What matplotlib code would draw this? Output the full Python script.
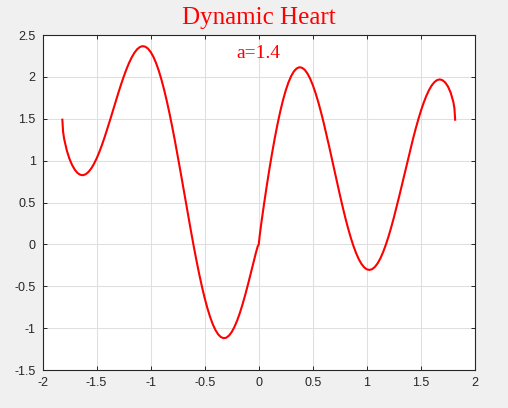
import matplotlib
matplotlib.use("Agg")
import matplotlib.pyplot as plt

# Curve samples (a = 1.4)
x_vals = [-1.8166, -1.81, -1.8, -1.775, -1.75, -1.725, -1.7, -1.675, -1.65, -1.625,
          -1.6, -1.575, -1.55, -1.525, -1.5, -1.475, -1.45, -1.425, -1.4, -1.375,
          -1.35, -1.325, -1.3, -1.275, -1.25, -1.225, -1.2, -1.175, -1.15, -1.125,
          -1.1, -1.075, -1.05, -1.025, -1.0, -0.975, -0.95, -0.925, -0.9, -0.875,
          -0.85, -0.825, -0.8, -0.775, -0.75, -0.725, -0.7, -0.675, -0.65, -0.625,
          -0.6, -0.575, -0.55, -0.525, -0.5, -0.475, -0.45, -0.425, -0.4, -0.375,
          -0.35, -0.325, -0.3, -0.275, -0.25, -0.225, -0.2, -0.175, -0.15, -0.125,
          -0.1, -0.075, -0.05, -0.025, -0.01, 0.0, 0.01, 0.025, 0.05, 0.075,
          0.1, 0.125, 0.15, 0.175, 0.2, 0.225, 0.25, 0.275, 0.3, 0.325,
          0.35, 0.375, 0.4, 0.425, 0.45, 0.475, 0.5, 0.525, 0.55, 0.575,
          0.6, 0.625, 0.65, 0.675, 0.7, 0.725, 0.75, 0.775, 0.8, 0.825,
          0.85, 0.875, 0.9, 0.925, 0.95, 0.975, 1.0, 1.025, 1.05, 1.075,
          1.1, 1.125, 1.15, 1.175, 1.2, 1.225, 1.25, 1.275, 1.3, 1.325,
          1.35, 1.375, 1.4, 1.425, 1.45, 1.475, 1.5, 1.525, 1.55, 1.575,
          1.6, 1.625, 1.65, 1.675, 1.7, 1.725, 1.75, 1.775, 1.8, 1.81, 1.8166]
y_vals = [1.489, 1.347, 1.260, 1.119, 1.019, 0.944, 0.889, 0.851, 0.831, 0.826,
          0.838, 0.865, 0.905, 0.959, 1.025, 1.102, 1.188, 1.282, 1.382, 1.486,
          1.592, 1.698, 1.803, 1.904, 1.999, 2.087, 2.166, 2.233, 2.288, 2.330,
          2.356, 2.367, 2.361, 2.338, 2.298, 2.241, 2.166, 2.075, 1.967, 1.845,
          1.709, 1.561, 1.402, 1.234, 1.058, 0.878, 0.694, 0.509, 0.324, 0.144,
          -0.032, -0.200, -0.359, -0.507, -0.642, -0.762, -0.866, -0.954, -1.024, -1.075,
          -1.107, -1.120, -1.114, -1.089, -1.046, -0.986, -0.910, -0.820, -0.716, -0.602,
          -0.480, -0.351, -0.221, -0.094, -0.025, 0.000, 0.118, 0.265, 0.492, 0.707,
          0.911, 1.102, 1.281, 1.445, 1.594, 1.726, 1.840, 1.935, 2.010, 2.065,
          2.100, 2.115, 2.109, 2.085, 2.041, 1.980, 1.902, 1.808, 1.702, 1.583,
          1.455, 1.318, 1.176, 1.030, 0.883, 0.736, 0.593, 0.454, 0.321, 0.198,
          0.085, -0.016, -0.103, -0.176, -0.233, -0.274, -0.298, -0.305, -0.295, -0.268,
          -0.225, -0.167, -0.093, -0.006, 0.093, 0.203, 0.322, 0.448, 0.579, 0.714,
          0.851, 0.987, 1.121, 1.250, 1.374, 1.489, 1.595, 1.690, 1.773, 1.843,
          1.898, 1.938, 1.962, 1.970, 1.960, 1.933, 1.885, 1.813, 1.700, 1.624, 1.489]

x_ticks = [-2, -1.5, -1, -0.5, 0, 0.5, 1, 1.5, 2]
x_tick_labels = ['-2', '-1.5', '-1', '-0.5', '0', '0.5', '1', '1.5', '2']
y_ticks = [-1.5, -1, -0.5, 0, 0.5, 1, 1.5, 2, 2.5]
y_tick_labels = ['-1.5', '-1', '-0.5', '0', '0.5', '1', '1.5', '2', '2.5']
title = 'Dynamic Heart'
annotation = 'a=1.4'

fig = plt.figure(figsize=(5.08, 4.08), dpi=100, facecolor='#f0f0f0')
ax = fig.add_axes([0.0837, 0.0931, 0.8513, 0.8211])
ax.plot(x_vals, y_vals, color='red', lw=1.5)
ax.set_xlim(-2, 2)
ax.set_ylim(-1.5, 2.5)
ax.set_xticks(x_ticks)
ax.set_xticklabels(x_tick_labels)
ax.set_yticks(y_ticks)
ax.set_yticklabels(y_tick_labels)
ax.grid(True, color='#dfdfdf', lw=0.75)
ax.set_axisbelow(True)
for s in ax.spines.values():
    s.set_color('#262626')
    s.set_linewidth(0.8)
ax.tick_params(direction='in', length=3, width=0.7, colors='#262626', labelsize=9,
               top=True, right=True, labelfontfamily='Liberation Sans')
ax.tick_params(axis='x', pad=5)
ax.tick_params(axis='y', pad=5)
ax.set_title(title, color='red', fontsize=18, family='Liberation Serif', pad=8)
ax.text(0, 2.285, annotation, color='red', fontsize=14, family='Liberation Serif',
        ha='center', va='center')
fig.savefig('out.png', facecolor=fig.get_facecolor())
